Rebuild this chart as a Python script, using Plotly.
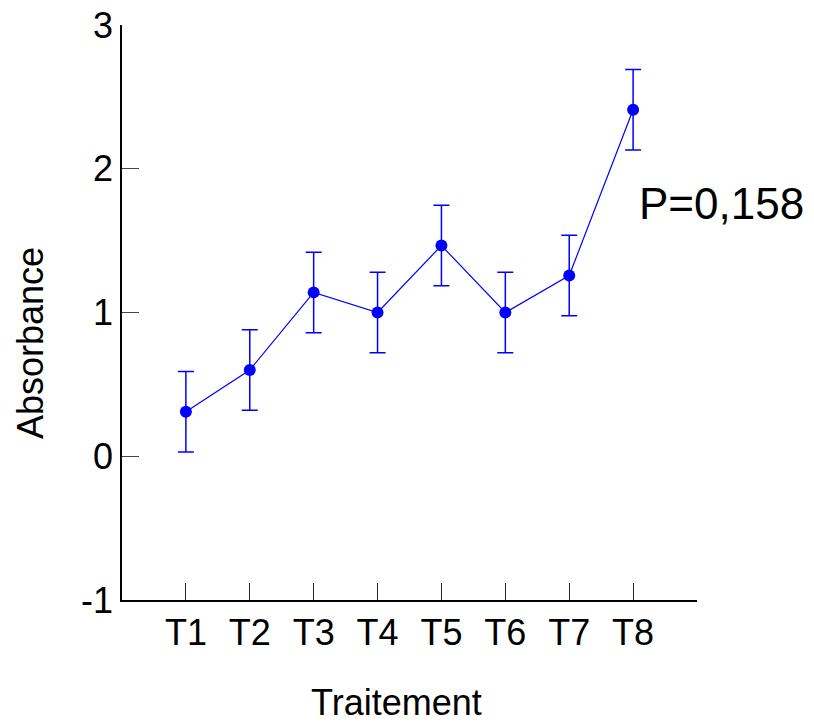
import plotly.graph_objects as go

categories = ["T1", "T2", "T3", "T4", "T5", "T6", "T7", "T8"]
absorbance = [0.31, 0.60, 1.14, 1.00, 1.466, 1.00, 1.257, 2.41]
errors = [0.28, 0.28, 0.28, 0.28, 0.28, 0.28, 0.28, 0.28]
y_ticks = [-1, 0, 1, 2, 3]
p_label = "P=0,158"

positions = list(range(len(categories)))
FONT = "Liberation Sans, Arial, sans-serif"

fig = go.Figure()
fig.add_trace(go.Scatter(
    x=positions, y=absorbance,
    mode="lines+markers",
    line=dict(color="#0000ff", width=1.2),
    marker=dict(color="#0000ff", size=12),
    error_y=dict(type="data", array=errors, visible=True,
                 color="#0000ff", thickness=1.5, width=8),
    showlegend=False,
    cliponaxis=False,
))

# page body adds an 8px offset; margins compensate
fig.update_layout(
    width=814, height=722,
    margin=dict(l=114, r=125, t=17, b=130, autoexpand=False),
    plot_bgcolor="white", paper_bgcolor="white",
    font=dict(family=FONT, size=36, color="black"),
    xaxis=dict(
        range=[-1, 8], tickmode="array", tickvals=positions, ticktext=categories,
        ticks="inside", ticklen=17, tickwidth=1, tickcolor="#222",
        showline=True, linecolor="black", linewidth=1.5,
        showgrid=False, zeroline=False, automargin=False,
        ticklabeloverflow="allow",
        tickfont=dict(size=36, family=FONT),
    ),
    yaxis=dict(
        range=[-1, 3], tickmode="array", tickvals=y_ticks,
        ticktext=[str(v) for v in y_ticks],
        ticks="inside", ticklen=17, tickwidth=1, tickcolor="#444",
        showline=True, linecolor="black", linewidth=1.5,
        showgrid=False, zeroline=False, automargin=False,
        ticklabeloverflow="allow",
        tickfont=dict(size=36, family=FONT),
    ),
    annotations=[
        dict(text="Absorbance", xref="paper", yref="paper",
             x=(30 - 122) / 575, y=(600 - 343) / 575,
             xanchor="center", yanchor="middle", textangle=-90,
             showarrow=False, font=dict(size=36, family=FONT)),
        dict(text="Traitement", xref="paper", yref="paper",
             x=(396 - 122) / 575, y=(600 - 702) / 575,
             xanchor="center", yanchor="middle",
             showarrow=False, font=dict(size=36, family=FONT)),
        dict(text=p_label, xref="paper", yref="paper",
             x=(637 - 122) / 575, y=(600 - 203) / 575,
             xanchor="left", yanchor="middle",
             showarrow=False, font=dict(size=44, family=FONT)),
    ],
)

fig.write_html("out.html")
